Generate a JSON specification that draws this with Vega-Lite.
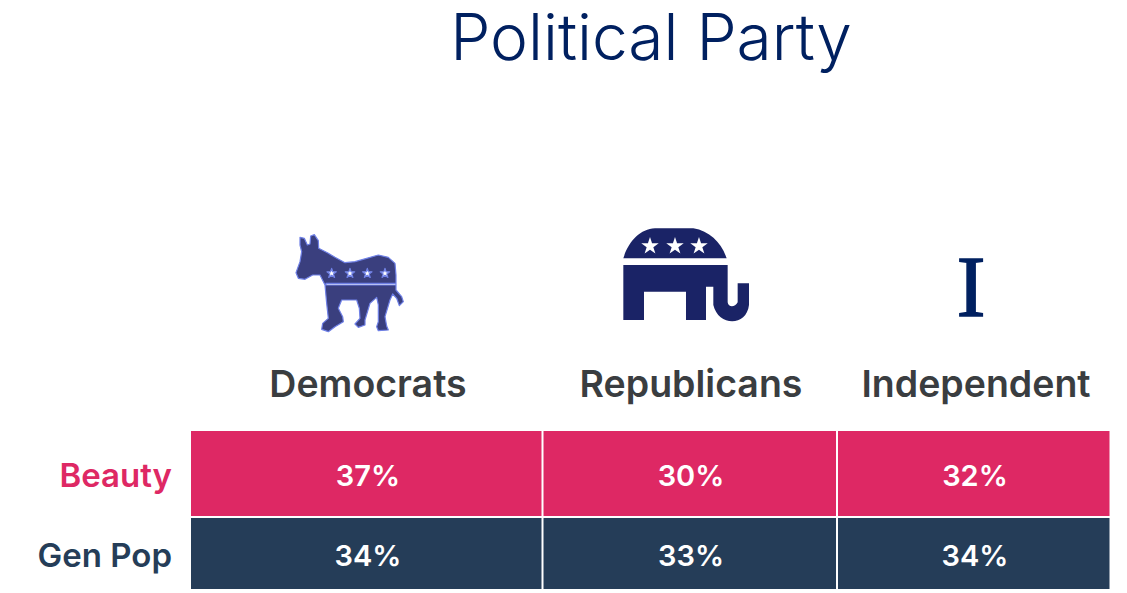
{
  "$schema": "https://vega.github.io/schema/vega-lite/v6.json",
  "width": 1127,
  "height": 593,
  "padding": 0,
  "autosize": "none",
  "background": "white",
  "view": {"stroke": null},
  "datasets": {
    "cells": [
      {"group": "Beauty", "party": "Democrats", "share": 0.37},
      {"group": "Beauty", "party": "Republicans", "share": 0.30},
      {"group": "Beauty", "party": "Independent", "share": 0.32},
      {"group": "Gen Pop", "party": "Democrats", "share": 0.34},
      {"group": "Gen Pop", "party": "Republicans", "share": 0.33},
      {"group": "Gen Pop", "party": "Independent", "share": 0.34}
    ],
    "parties": [
      {"party": "Democrats"},
      {"party": "Republicans"},
      {"party": "Independent"}
    ],
    "groups": [
      {"group": "Beauty"},
      {"group": "Gen Pop"}
    ]
  },
  "layer": [
    {
      "data": {"values": [{"heading": "Political Party"}]},
      "transform": [
        {"calculate": "651", "as": "cx"},
        {"calculate": "41", "as": "cy"}
      ],
      "mark": {"type": "text", "font": "Inter", "fontSize": 64, "fontWeight": 300, "color": "#002060", "align": "center", "baseline": "middle"},
      "encoding": {
        "x": {"field": "cx", "type": "quantitative", "scale": {"domain": [0, 1127], "nice": false, "zero": false}, "axis": null},
        "y": {"field": "cy", "type": "quantitative", "scale": {"domain": [0, 593], "nice": false, "zero": false, "reverse": true}, "axis": null},
        "text": {"field": "heading"}
      }
    },
    {
      "data": {"values": [{"party": "Democrats"}]},
      "transform": [
        {"calculate": "270", "as": "cx"},
        {"calculate": "220", "as": "cy"}
      ],
      "mark": {
        "type": "point",
        "filled": true,
        "opacity": 1,
        "size": 0.4444,
        "fill": "#3a3f7e",
        "stroke": "#6f80e6",
        "strokeWidth": 1.2,
        "strokeJoin": "round",
        "shape": "M90,52 L103,55 L112,75 L120,72 L122,48 L133,44 L145,62 L146,85 L175,100 L195,112 L225,128 L255,125 L290,115 L325,105 L355,112 L375,130 L378,165 L378,210 L395,230 L400,245 L388,257 L380,235 L368,222 L360,240 L345,290 L350,318 L355,330 L325,332 L320,320 L325,305 L325,255 L320,232 L300,250 L285,300 L285,315 L265,322 L255,312 L270,295 L268,265 L260,240 L215,240 L205,265 L218,290 L220,305 L195,320 L175,335 L155,328 L158,310 L175,295 L170,250 L165,195 L150,165 L128,165 L105,178 L85,175 L78,158 L90,125 L95,95 L90,75 Z M185,145 l-3.4,10.4 l-10.9,0 l8.8,6.4 l-3.4,10.4 l8.8,-6.4 l8.8,6.4 l-3.4,-10.4 l8.8,-6.4 l-10.9,0 Z M240,145 l-3.4,10.4 l-10.9,0 l8.8,6.4 l-3.4,10.4 l8.8,-6.4 l8.8,6.4 l-3.4,-10.4 l8.8,-6.4 l-10.9,0 Z M292,145 l-3.4,10.4 l-10.9,0 l8.8,6.4 l-3.4,10.4 l8.8,-6.4 l8.8,6.4 l-3.4,-10.4 l8.8,-6.4 l-10.9,0 Z M345,145 l-3.4,10.4 l-10.9,0 l8.8,6.4 l-3.4,10.4 l8.8,-6.4 l8.8,6.4 l-3.4,-10.4 l8.8,-6.4 l-10.9,0 Z M168,190 L168,195 L378,195 L378,190 Z"
      },
      "encoding": {
        "x": {"field": "cx", "type": "quantitative"},
        "y": {"field": "cy", "type": "quantitative"}
      }
    },
    {
      "data": {"values": [{"party": "Republicans"}]},
      "transform": [
        {"calculate": "600", "as": "cx"},
        {"calculate": "215", "as": "cy"}
      ],
      "mark": {
        "type": "point",
        "filled": true,
        "opacity": 1,
        "size": 0.4444,
        "fill": "#1a2366",
        "strokeWidth": 0,
        "shape": "M70,130 C85,80 120,42 165,40 L280,40 C330,48 365,85 380,130 Z M150,66 l-6.2,19 l-20,0 l16.2,11.7 l-6.2,19 l16.2,-11.7 l16.2,11.7 l-6.2,-19 l16.2,-11.7 l-20,0 Z M225,66 l-6.2,19 l-20,0 l16.2,11.7 l-6.2,19 l16.2,-11.7 l16.2,11.7 l-6.2,-19 l16.2,-11.7 l-20,0 Z M297,66 l-6.2,19 l-20,0 l16.2,11.7 l-6.2,19 l16.2,-11.7 l16.2,11.7 l-6.2,-19 l16.2,-11.7 l-20,0 Z M70,150 L383,150 L383,262 C385,278 405,278 413,262 L413,205 L447,205 L447,270 C440,335 355,335 340,270 L340,215 L318,215 L318,315 L258,315 L258,230 L132,230 L132,315 L70,315 Z"
      },
      "encoding": {
        "x": {"field": "cx", "type": "quantitative"},
        "y": {"field": "cy", "type": "quantitative"}
      }
    },
    {
      "data": {"values": [{"party": "Independent", "letter": "I"}]},
      "transform": [
        {"calculate": "971", "as": "cx"},
        {"calculate": "290", "as": "cy"}
      ],
      "mark": {"type": "text", "font": "Liberation Serif", "fontSize": 86, "fontWeight": "normal", "color": "#002060", "stroke": "#002060", "strokeWidth": 1.5, "align": "center", "baseline": "middle"},
      "encoding": {
        "x": {"field": "cx", "type": "quantitative"},
        "y": {"field": "cy", "type": "quantitative"},
        "text": {"field": "letter"}
      }
    },
    {
      "data": {"name": "parties"},
      "transform": [
        {"calculate": "{'Democrats': 368, 'Republicans': 691, 'Independent': 976}[datum.party]", "as": "cx"},
        {"calculate": "386", "as": "cy"}
      ],
      "mark": {"type": "text", "font": "Inter", "fontSize": 37.5, "fontWeight": 600, "color": "#3a3d40", "align": "center", "baseline": "middle"},
      "encoding": {
        "x": {"field": "cx", "type": "quantitative"},
        "y": {"field": "cy", "type": "quantitative"},
        "text": {"field": "party"}
      }
    },
    {
      "data": {"name": "groups"},
      "transform": [
        {"calculate": "172", "as": "cx"},
        {"calculate": "{'Beauty': 477, 'Gen Pop': 557}[datum.group]", "as": "cy"}
      ],
      "mark": {"type": "text", "font": "Inter", "fontSize": 33, "fontWeight": 600, "align": "right", "baseline": "middle"},
      "encoding": {
        "x": {"field": "cx", "type": "quantitative"},
        "y": {"field": "cy", "type": "quantitative"},
        "text": {"field": "group"},
        "color": {"field": "group", "type": "nominal", "scale": {"domain": ["Beauty", "Gen Pop"], "range": ["#de2864", "#253d58"]}, "legend": null}
      }
    },
    {
      "data": {"name": "cells"},
      "transform": [
        {"calculate": "{'Democrats': 191, 'Republicans': 543.5, 'Independent': 838}[datum.party]", "as": "x0"},
        {"calculate": "{'Democrats': 541.5, 'Republicans': 836, 'Independent': 1109.5}[datum.party]", "as": "x1"},
        {"calculate": "{'Beauty': 431, 'Gen Pop': 518}[datum.group]", "as": "y0"},
        {"calculate": "{'Beauty': 516, 'Gen Pop': 589}[datum.group]", "as": "y1"}
      ],
      "mark": {"type": "rect"},
      "encoding": {
        "x": {"field": "x0", "type": "quantitative"},
        "x2": {"field": "x1"},
        "y": {"field": "y0", "type": "quantitative"},
        "y2": {"field": "y1"},
        "color": {"field": "group", "type": "nominal", "legend": null}
      }
    },
    {
      "data": {"name": "cells"},
      "transform": [
        {"calculate": "{'Democrats': 368, 'Republicans': 691, 'Independent': 975}[datum.party]", "as": "cx"},
        {"calculate": "{'Beauty': 477, 'Gen Pop': 557}[datum.group]", "as": "cy"}
      ],
      "mark": {"type": "text", "font": "Inter", "fontSize": 29, "fontWeight": 600, "color": "white", "align": "center", "baseline": "middle"},
      "encoding": {
        "x": {"field": "cx", "type": "quantitative"},
        "y": {"field": "cy", "type": "quantitative"},
        "text": {"field": "share", "type": "quantitative", "format": ".0%"}
      }
    }
  ]
}
